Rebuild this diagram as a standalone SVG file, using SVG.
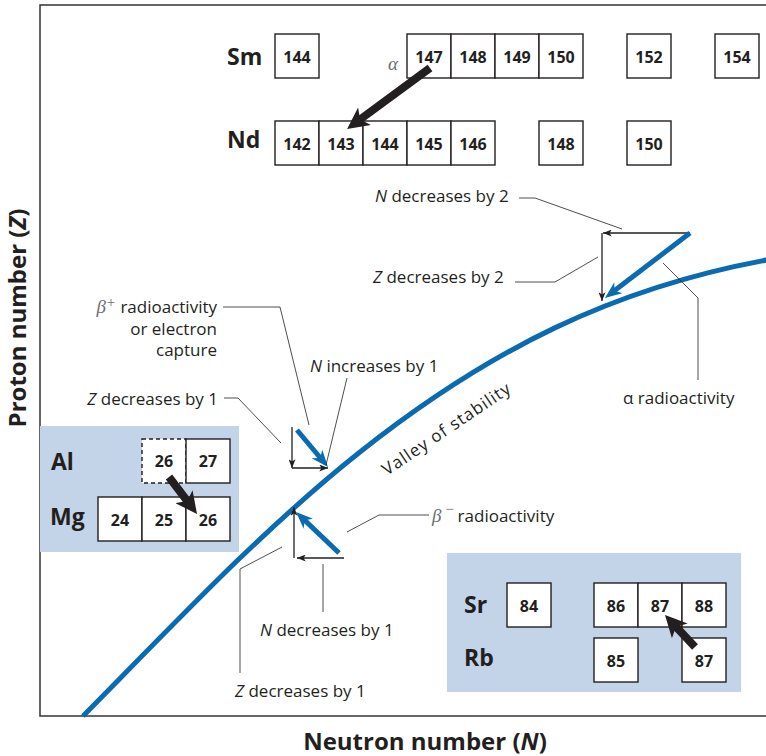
<svg xmlns="http://www.w3.org/2000/svg" width="766" height="756" viewBox="0 0 766 756">
<style>
.frame{fill:none;stroke:#333;stroke-width:1.5}
.panel{fill:#c3d3e8}
.box rect{fill:#fff;stroke:#231f20;stroke-width:1.4}
.box rect.dash{stroke-dasharray:4 3}
.num{font-family:"Open Sans","Liberation Sans",sans-serif;font-weight:bold;font-size:16px;text-anchor:middle;fill:#231f20}
.el{font-family:"Open Sans","Liberation Sans",sans-serif;font-weight:bold;font-size:23px;fill:#231f20}
.lbl{font-family:"Open Sans","Liberation Sans",sans-serif;font-size:17px;fill:#231f20}
.axis{font-family:"Open Sans","Liberation Sans",sans-serif;font-weight:bold;font-size:24px;fill:#231f20}
.greek{font-family:"Liberation Serif",serif;font-style:italic;fill:#6d6e71}
.lead{fill:none;stroke:#231f20;stroke-width:0.8}
.thin{fill:none;stroke:#231f20;stroke-width:1.3;marker-end:url(#ah)}
.blue{fill:none;stroke:#0a6bb0;stroke-width:5;marker-end:url(#bh)}
.thick{fill:none;stroke:#231f20;stroke-width:8;marker-end:url(#kh)}
.valley{fill:none;stroke:#0a6bb0;stroke-width:5}
</style>
<defs>
<marker id="ah" markerUnits="userSpaceOnUse" viewBox="0 0 10 8" markerWidth="9" markerHeight="7" refX="10" refY="4" orient="auto"><path d="M0,0 L10,4 L0,8 L2.5,4 z" fill="#231f20"/></marker>
<marker id="bh" viewBox="0 0 10 8" markerWidth="3.4" markerHeight="2.72" refX="5" refY="4" orient="auto"><path d="M0,0 L10,4 L0,8 L3,4 z" fill="#0a6bb0"/></marker>
<marker id="kh" viewBox="0 0 10 10" markerWidth="2.7" markerHeight="2.7" refX="5.4" refY="5" orient="auto"><path d="M0,0 L10,5 L0,10 L2.5,5 z" fill="#231f20"/></marker>
</defs>

<rect class="frame" x="40" y="5" width="740" height="711"/>
<rect class="panel" x="40" y="426" width="199" height="126"/>
<rect class="panel" x="447" y="553" width="294" height="139"/>

<path class="valley" d="M83,716 C109,690 194,602 240,558 C286,514 322,482 360,452 C490,349 615,287 772,259"/>
<text class="lbl" font-size="21" letter-spacing="1" transform="translate(387,476) rotate(-34)">Valley of stability</text>

<!-- element labels -->
<text class="el" x="227" y="65">Sm</text>
<text class="el" x="227" y="148">Nd</text>
<text class="el" x="51" y="470">Al</text>
<text class="el" x="50" y="525">Mg</text>
<text class="el" x="464" y="613">Sr</text>
<text class="el" x="464" y="666">Rb</text>

<!-- Sm row -->
<g id="sm144" class="box"><rect x="275" y="34" width="44" height="44"/><text class="num" x="297" y="62.5">144</text></g>
<g id="sm147" class="box"><rect x="407" y="34" width="44" height="44"/><text class="num" x="429" y="62.5">147</text></g>
<g id="sm148" class="box"><rect x="451" y="34" width="44" height="44"/><text class="num" x="473" y="62.5">148</text></g>
<g id="sm149" class="box"><rect x="495" y="34" width="44" height="44"/><text class="num" x="517" y="62.5">149</text></g>
<g id="sm150" class="box"><rect x="539" y="34" width="44" height="44"/><text class="num" x="561" y="62.5">150</text></g>
<g id="sm152" class="box"><rect x="627" y="34" width="44" height="44"/><text class="num" x="649" y="62.5">152</text></g>
<g id="sm154" class="box"><rect x="715" y="34" width="44" height="44"/><text class="num" x="737" y="62.5">154</text></g>

<!-- Nd row -->
<g id="nd142" class="box"><rect x="275" y="121" width="44" height="44"/><text class="num" x="297" y="150">142</text></g>
<g id="nd143" class="box"><rect x="319" y="121" width="44" height="44"/><text class="num" x="341" y="150">143</text></g>
<g id="nd144" class="box"><rect x="363" y="121" width="44" height="44"/><text class="num" x="385" y="150">144</text></g>
<g id="nd145" class="box"><rect x="407" y="121" width="44" height="44"/><text class="num" x="429" y="150">145</text></g>
<g id="nd146" class="box"><rect x="451" y="121" width="44" height="44"/><text class="num" x="473" y="150">146</text></g>
<g id="nd148" class="box"><rect x="539" y="121" width="44" height="44"/><text class="num" x="561" y="150">148</text></g>
<g id="nd150" class="box"><rect x="627" y="121" width="44" height="44"/><text class="num" x="649" y="150">150</text></g>

<!-- Al / Mg -->
<g id="al26" class="box"><rect class="dash" x="142" y="439" width="44" height="44"/><text class="num" x="164" y="467">26</text></g>
<g id="al27" class="box"><rect x="186" y="439" width="44" height="44"/><text class="num" x="208" y="467">27</text></g>
<g id="mg24" class="box"><rect x="98" y="497" width="44" height="44"/><text class="num" x="120" y="525.5">24</text></g>
<g id="mg25" class="box"><rect x="142" y="497" width="44" height="44"/><text class="num" x="164" y="525.5">25</text></g>
<g id="mg26" class="box"><rect x="186" y="497" width="44" height="44"/><text class="num" x="208" y="525.5">26</text></g>

<!-- Sr / Rb -->
<g id="sr84" class="box"><rect x="507" y="583" width="44" height="44"/><text class="num" x="529" y="611.5">84</text></g>
<g id="sr86" class="box"><rect x="594" y="583" width="44" height="44"/><text class="num" x="616" y="611.5">86</text></g>
<g id="sr87" class="box"><rect x="638" y="583" width="44" height="44"/><text class="num" x="660" y="611.5">87</text></g>
<g id="sr88" class="box"><rect x="682" y="583" width="44" height="44"/><text class="num" x="704" y="611.5">88</text></g>
<g id="rb85" class="box"><rect x="594" y="638" width="44" height="44"/><text class="num" x="616" y="666.5">85</text></g>
<g id="rb87" class="box"><rect x="682" y="638" width="44" height="44"/><text class="num" x="704" y="666.5">87</text></g>

<g id="connectors">
  <line class="thick" x1="430" y1="68" x2="355.1" y2="123.1"/>
  <line class="thick" x1="169" y1="477" x2="191" y2="506"/>
  <line class="thick" x1="695" y1="647" x2="671.8" y2="622.3"/>
  <line class="thin" x1="690" y1="233" x2="603" y2="233"/>
  <line class="thin" x1="602" y1="233" x2="602" y2="301"/>
  <line class="blue" x1="690" y1="233" x2="611.7" y2="292.8"/>
  <line class="thin" x1="292" y1="427" x2="292" y2="468"/>
  <line class="thin" x1="292" y1="468" x2="328" y2="468"/>
  <line class="blue" x1="297" y1="430" x2="322.5" y2="460.5"/>
  <line class="thin" x1="294" y1="558" x2="294" y2="507"/>
  <line class="thin" x1="344" y1="558" x2="297" y2="558"/>
  <line class="blue" x1="339" y1="553" x2="302.2" y2="517.9"/>
  <polyline class="lead" points="519,198 535,198 622,229"/>
  <polyline class="lead" points="515,282 555,282 598,257"/>
  <polyline class="lead" points="698,380 698,298 663,263"/>
  <polyline class="lead" points="223,307 280,307 309,425"/>
  <polyline class="lead" points="224,398 238,398 281,443"/>
  <polyline class="lead" points="347,378 326,465"/>
  <polyline class="lead" points="429,515 379,515 347,532"/>
  <polyline class="lead" points="323,564 323,612"/>
  <polyline class="lead" points="282,547 240,569 240,673"/>
</g>

<!-- labels -->
<text class="greek" x="388" y="70" font-size="19">α</text>
<text class="lbl" x="375" y="202"><tspan font-style="italic">N</tspan> decreases by 2</text>
<text class="lbl" x="373" y="283"><tspan font-style="italic">Z</tspan> decreases by 2</text>
<text class="lbl" x="623" y="404">α radioactivity</text>
<text class="lbl" x="217" y="313" text-anchor="end"><tspan class="greek" font-size="19">β</tspan><tspan class="greek" font-size="15" font-style="normal" dy="-6">+</tspan><tspan dy="6"> radioactivity</tspan></text>
<text class="lbl" x="217" y="335" text-anchor="end">or electron</text>
<text class="lbl" x="217" y="356" text-anchor="end">capture</text>
<text class="lbl" x="218" y="405" text-anchor="end"><tspan font-style="italic">Z</tspan> decreases by 1</text>
<text class="lbl" x="310" y="372"><tspan font-style="italic">N</tspan> increases by 1</text>
<text class="lbl" x="432" y="522"><tspan class="greek" font-size="19">β</tspan><tspan class="greek" font-size="15" font-style="normal" dx="3" dy="-8">−</tspan><tspan dx="3" dy="8">radioactivity</tspan></text>
<text class="lbl" x="260" y="636"><tspan font-style="italic">N</tspan> decreases by 1</text>
<text class="lbl" x="235" y="697"><tspan font-style="italic">Z</tspan> decreases by 1</text>

<text class="axis" x="425" y="750" text-anchor="middle">Neutron number (<tspan font-style="italic">N</tspan>)</text>
<text class="axis" transform="translate(26,318) rotate(-90)" text-anchor="middle">Proton number (<tspan font-style="italic">Z</tspan>)</text>
</svg>
